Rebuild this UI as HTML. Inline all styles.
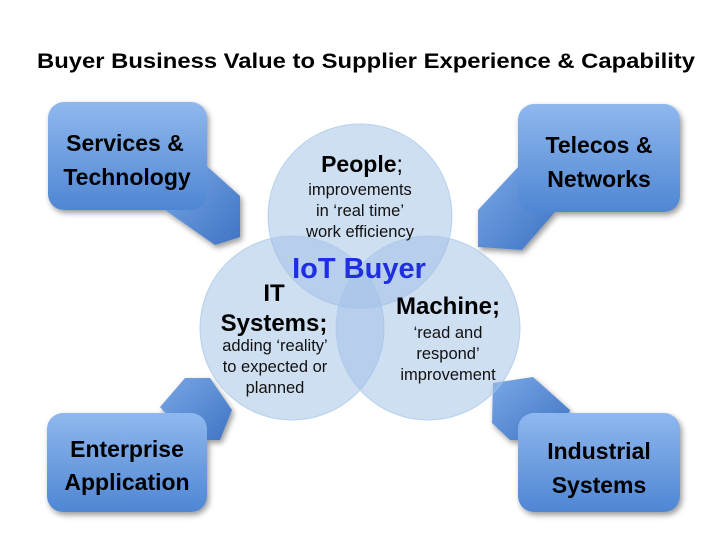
<!DOCTYPE html>
<html><head><style>
body{margin:0;width:720px;height:540px;background:#fff;overflow:hidden;font-family:"Liberation Sans",sans-serif;}
</style></head><body>
<svg width="720" height="540" viewBox="0 0 720 540" xmlns="http://www.w3.org/2000/svg">
<defs>
<linearGradient id="g" x1="0" y1="0" x2="0" y2="1">
<stop offset="0" stop-color="#8fb8ee"/><stop offset="1" stop-color="#4f86d3"/></linearGradient>
<linearGradient id="p" x1="0" y1="0" x2="1" y2="1">
<stop offset="0" stop-color="#7aa8e6"/><stop offset="1" stop-color="#3f74c4"/></linearGradient>
<filter id="s" x="-20%" y="-20%" width="140%" height="140%"><feDropShadow dx="2" dy="3" stdDeviation="3" flood-opacity="0.4"/></filter>
</defs>
<text x="366" y="68" text-anchor="middle" font-size="21" font-weight="bold" fill="#000" textLength="658" lengthAdjust="spacingAndGlyphs">Buyer Business Value to Supplier Experience &amp; Capability</text>
<g filter="url(#s)">
<polygon points="200,160 240,196 240,237 215,245 165,210" fill="url(#p)"/>
<polygon points="520,165 478,210 478,247 522,250 555,212" fill="url(#p)"/>
<polygon points="160,407 185,378 210,378 232,410 220,440 190,440" fill="url(#p)"/>
<polygon points="493,383 533,377 570,410 560,440 510,440 492,423" fill="url(#p)"/>
<rect x="48" y="102" width="159" height="108" rx="16" fill="url(#g)"/>
<rect x="518" y="104" width="162" height="108" rx="16" fill="url(#g)"/>
<rect x="47" y="413" width="160" height="99" rx="16" fill="url(#g)"/>
<rect x="518" y="413" width="162" height="99" rx="16" fill="url(#g)"/>
</g>
<g fill="rgba(160,192,230,0.5)" stroke="rgba(170,200,235,0.8)" stroke-width="1">
<circle cx="360" cy="216" r="92"/>
<circle cx="292" cy="328" r="92"/>
<circle cx="428" cy="328" r="92"/>
</g>
<g font-size="23" font-weight="bold" fill="#000" text-anchor="middle">
<text x="125" y="151">Services &amp;</text><text x="127" y="185">Technology</text>
<text x="599" y="153">Telecos &amp;</text><text x="599" y="187">Networks</text>
<text x="127" y="457">Enterprise</text><text x="127" y="490">Application</text>
<text x="599" y="459">Industrial</text><text x="599" y="493">Systems</text>
</g>
<text x="362" y="172" text-anchor="middle" font-size="23"><tspan font-weight="bold">People</tspan>;</text>
<g font-size="16.5" text-anchor="middle" fill="#111">
<text x="360" y="195">improvements</text><text x="360" y="216">in ‘real time’</text><text x="360" y="237">work efficiency</text>
<text x="275" y="351">adding ‘reality’</text><text x="275" y="372">to expected or</text><text x="275" y="393">planned</text>
<text x="448" y="338">‘read and</text><text x="448" y="359">respond’</text><text x="448" y="380">improvement</text>
</g>
<text x="359" y="278" text-anchor="middle" font-size="29" font-weight="bold" fill="#1f2fe0">IoT Buyer</text>
<g font-size="24" font-weight="bold" text-anchor="middle" fill="#000">
<text x="274" y="301">IT</text><text x="274" y="331">Systems;</text>
<text x="448" y="314">Machine;</text>
</g>
</svg>
</body></html>
